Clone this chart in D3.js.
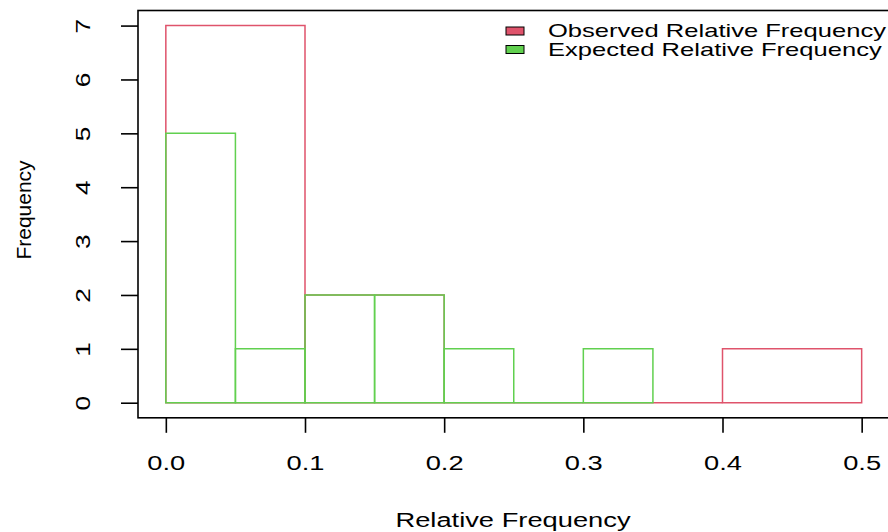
<!DOCTYPE html>
<html>
<head>
<meta charset="utf-8">
<script src="https://cdn.jsdelivr.net/npm/d3@7"></script>
<style>
  body { margin: 0; background: #fff; }
  svg text { font-family: "Liberation Sans", Arial, sans-serif; fill: #000; }
</style>
</head>
<body>
<svg id="chart" width="888" height="532"></svg>
<script>
// observed relative frequency histogram (bin width 0.1)
var obsBreaks = [0, 0.1, 0.2, 0.3, 0.4, 0.5];
var obsCounts = [7, 2, 0, 0, 1];
// expected relative frequency histogram (bin width 0.05)
var expBreaks = [0, 0.05, 0.1, 0.15, 0.2, 0.25, 0.3, 0.35];
var expCounts = [5, 1, 2, 2, 1, 0, 1];

var xTicks = [0, 0.1, 0.2, 0.3, 0.4, 0.5];
var yTicks = [0, 1, 2, 3, 4, 5, 6, 7];
var legendLabels = ["Observed Relative Frequency", "Expected Relative Frequency"];
var legendColors = ["#DF536B", "#61D04F"];

var chart = d3.select("#chart");

var xScale = d3.scaleLinear()
    .domain([-0.02, 0.52])
    .range([138, 889.5]);

var yScale = d3.scaleLinear()
    .domain([-0.28, 7.28])
    .range([417.8, 10.5]);

var stretch = 1.3;

function bins(breaks, counts) {
    return counts.map(function(c, i) { return {x0: breaks[i], x1: breaks[i + 1], n: c}; });
}

// each bar as a closed path so empty bins still show as a line on the baseline
function drawHist(data, color) {
    chart.append("g").selectAll("path")
        .data(data).enter()
        .append("path")
            .attr("d", function(d) {
                var p = d3.path();
                p.moveTo(xScale(d.x0), yScale(0));
                p.lineTo(xScale(d.x0), yScale(d.n));
                p.lineTo(xScale(d.x1), yScale(d.n));
                p.lineTo(xScale(d.x1), yScale(0));
                p.closePath();
                return p.toString();
            })
            .attr("fill", "none")
            .attr("stroke", color)
            .attr("stroke-width", 1.5);
}

drawHist(bins(obsBreaks, obsCounts), legendColors[0]);
drawHist(bins(expBreaks, expCounts), legendColors[1]);

// box round the plot
chart.append("rect")
    .attr("x", xScale(-0.02))
    .attr("y", yScale(7.28))
    .attr("width", xScale(0.52) - xScale(-0.02))
    .attr("height", yScale(-0.28) - yScale(7.28))
    .attr("fill", "none")
    .attr("stroke", "#000")
    .attr("stroke-width", 1.6);

var xAxis = chart.append("g")
    .attr("transform", "translate(0," + yScale(-0.28) + ")")
    .call(d3.axisBottom(xScale).tickValues(xTicks).tickSize(15).tickFormat(d3.format(".1f")));
xAxis.select(".domain").remove();
xAxis.selectAll("line").attr("stroke", "#000").attr("stroke-width", 1.6);
xAxis.selectAll("text")
    .attr("y", 0).attr("dy", null)
    .attr("transform", "translate(0,52) scale(" + stretch + ",1)")
    .style("font-size", "21px");

var yAxis = chart.append("g")
    .attr("transform", "translate(" + xScale(-0.02) + ",0)")
    .call(d3.axisLeft(yScale).tickValues(yTicks).tickSize(17));
yAxis.select(".domain").remove();
yAxis.selectAll("line").attr("stroke", "#000").attr("stroke-width", 1.6);
yAxis.selectAll("text")
    .attr("x", 0).attr("y", -48).attr("dy", null)
    .attr("transform", "rotate(-90) scale(1.25,1)")
    .style("text-anchor", "middle")
    .style("font-size", "21px");

chart.append("text")
    .text("Relative Frequency")
    .attr("transform", "translate(513,527) scale(" + stretch + ",1)")
    .style("text-anchor", "middle")
    .style("font-size", "21px");

chart.append("text")
    .text("Frequency")
    .attr("transform", "translate(31,210) rotate(-90)")
    .style("text-anchor", "middle")
    .style("font-size", "21px");

var legend = chart.append("g");
legend.selectAll("rect")
    .data(legendColors).enter()
    .append("rect")
        .attr("x", 506)
        .attr("y", function(d, i) { return 27 + i * 18.5; })
        .attr("width", 18)
        .attr("height", 8)
        .attr("fill", function(d) { return d; })
        .attr("stroke", "#000")
        .attr("stroke-width", 1);
legend.selectAll("text")
    .data(legendLabels).enter()
    .append("text")
        .text(function(d) { return d; })
        .attr("transform", function(d, i) { return "translate(548," + (37 + i * 18.5) + ") scale(1.42,1)"; })
        .style("font-size", "18px");
</script>
</body>
</html>
